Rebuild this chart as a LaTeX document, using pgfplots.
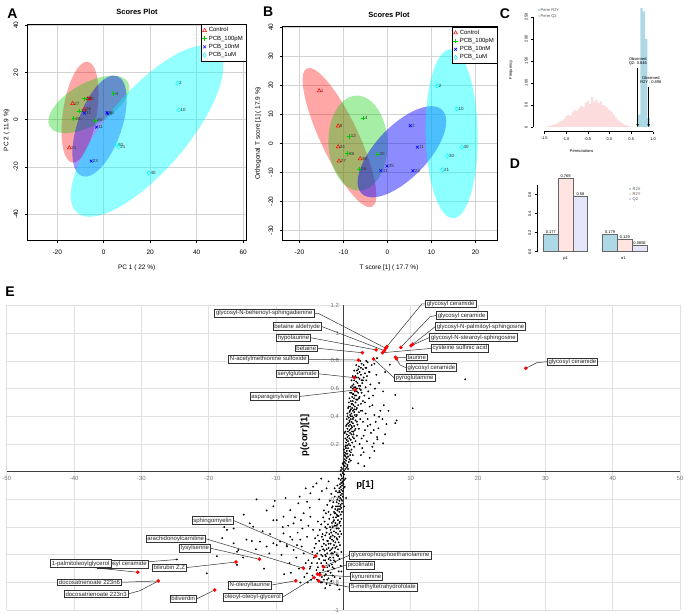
\documentclass[border=0pt]{standalone}
\usepackage{pgfplots}
\pgfplotsset{compat=1.18}
\usepackage{fontspec}
\setmainfont{Liberation Sans}
\usetikzlibrary{arrows.meta}
\definecolor{rgreen}{RGB}{0,205,0}
\definecolor{rcyan}{RGB}{0,255,255}
\definecolor{rred}{RGB}{255,0,0}
\definecolor{rblue}{RGB}{0,0,255}
\definecolor{gridgray}{RGB}{211,211,211}
\definecolor{ltblue}{RGB}{173,216,230}
\definecolor{mrose}{RGB}{255,228,225}
\definecolor{lav}{RGB}{230,230,250}
\definecolor{histpink}{RGB}{252,220,220}
\newcommand{\fsz}[1]{\fontsize{#1}{#1}\selectfont}
\pgfplotsset{
 scoreaxis/.style={
   scale only axis, axis line style={black, line width=0.6pt},
   grid=major, grid style={gridgray, line width=0.5pt},
   tick align=outside, major tick length=3pt, tick style={black, line width=0.5pt},
   tick pos=left,
   ticklabel style={font=\fsz{6.5}}, /pgf/number format/assume math mode=true,
   yticklabel style={rotate=90, anchor=south},
   xticklabel shift=3pt, yticklabel shift=3pt,
   legend style={font=\fsz{6}, draw=black, line width=0.4pt, at={(1,1)}, anchor=north east, inner sep=1pt, row sep=-1.5pt},
   legend cell align=left,
   every node near coord/.style={anchor=west, font=\fsz{4.5}, text=black!80, inner sep=1.5pt},
 },
 ctl/.style={only marks, mark=triangle, mark size=2.2pt, rred, mark options={line width=0.5pt}, nodes near coords, point meta=explicit symbolic},
 pa/.style={only marks, mark=+, mark size=2.2pt, rgreen, mark options={line width=0.6pt}, nodes near coords, point meta=explicit symbolic},
 pb/.style={only marks, mark=x, mark size=2pt, rblue, mark options={line width=0.6pt}, nodes near coords, point meta=explicit symbolic},
 pc/.style={only marks, mark=diamond, mark size=2.2pt, rcyan, mark options={line width=0.5pt}, nodes near coords, point meta=explicit symbolic},
}
\tikzset{lbl/.style={draw=black!80, line width=0.6pt, fill=white, font=\fsz{6}, inner xsep=1.4pt, inner ysep=1.1pt, text=black!85},
 ldr/.style={black!80, line width=0.5pt}}
\begin{document}
\begin{tikzpicture}[x=1pt,y=1pt]
\useasboundingbox (0,0) rectangle (685,613);
% ---------------- Panel A ----------------
\begin{axis}[scoreaxis, at={(27.7pt,588.7pt)}, anchor=north west, width=218.3pt, height=215.7pt,
 xmin=-32.7,xmax=61.2,ymin=-50.9,ymax=40.4, xtick={-20,0,20,40,60}, ytick={-40,-20,0,20,40}]
\fill[rred,fill opacity=0.35, rotate around={81.2:(axis cs:-10.2,3.2)}] (axis cs:-10.2,3.2) ellipse [x radius=51pt, y radius=17pt];
\fill[rgreen,fill opacity=0.35, rotate around={29.5:(axis cs:-6.4,6.5)}] (axis cs:-6.4,6.5) ellipse [x radius=45pt, y radius=21pt];
\fill[rblue,fill opacity=0.4, rotate around={70.7:(axis cs:-1.8,-2.7)}] (axis cs:-1.8,-2.7) ellipse [x radius=53pt, y radius=22pt];
\fill[rcyan,fill opacity=0.42, rotate around={49.4:(axis cs:18.6,-4.8)}] (axis cs:18.6,-4.8) ellipse [x radius=107.5pt, y radius=40pt];
\addplot[ctl] coordinates {(-13.4,6.9)[27] (-14.8,-11.9)[24] (-6.8,8.9)[9] (-5.9,8.9)[1] (-8.3,4.4)[36]};
\addplot[pa] coordinates {(-8.3,8.9)[38] (-10.5,3.6)[12] (-12.9,0.5)[26] (-3.6,-0.3)[20] (4.3,11.1)[4]};
\addplot[pb] coordinates {(-8.3,2.8)[31] (1.4,3.0)[35] (1.8,2.5)[3] (-3.1,-3.1)[11] (-5.4,-17.5)[23]};
\addplot[pc] coordinates {(31.7,15.5)[2] (32.3,4.2)[10] (5.4,-10.5)[30] (6.4,-11.4)[21] (19.4,-22.6)[40]};
\legend{Control,PCB\_100pM,PCB\_10nM,PCB\_1uM}
\end{axis}
% ---------------- Panel B ----------------
\begin{axis}[scoreaxis, at={(282.7pt,586.3pt)}, anchor=north west, width=214.3pt, height=213.3pt,
 xmin=-23.8,xmax=24.9,ymin=-33.3,ymax=40.2, xtick={-20,-10,0,10,20}, ytick={-30,-20,...,40}]
\fill[rred,fill opacity=0.35, rotate around={115.2:(axis cs:-10.9,2.0)}] (axis cs:-10.9,2.0) ellipse [x radius=76.5pt, y radius=19pt];
\fill[rgreen,fill opacity=0.35, rotate around={92:(axis cs:-6.7,0.1)}] (axis cs:-6.7,0.1) ellipse [x radius=47.5pt, y radius=29.5pt];
\fill[rblue,fill opacity=0.45, rotate around={46.2:(axis cs:3.3,-2.9)}] (axis cs:3.3,-2.9) ellipse [x radius=58pt, y radius=26pt];
\fill[rcyan,fill opacity=0.45, rotate around={91:(axis cs:14.6,3.3)}] (axis cs:14.6,3.3) ellipse [x radius=84.5pt, y radius=26pt];
\addplot[ctl] coordinates {(-15.5,18.1)[1] (-11.2,6.0)[9] (-11.2,-1.2)[24] (-11.0,-6.1)[27] (-6.2,-5.3)[36]};
\addplot[pa] coordinates {(-5.5,8.7)[4] (-8.7,2.4)[12] (-9.1,-3.5)[38] (-6.4,-8.9)[26] (-2.2,-3.7)[20]};
\addplot[pb] coordinates {(5.2,6.1)[3] (6.8,-1.3)[11] (-0.1,-7.8)[35] (-1.5,-9.4)[31] (5.8,-9.4)[23]};
\addplot[pc] coordinates {(11.3,19.8)[2] (15.8,11.9)[10] (16.9,-1.3)[40] (13.6,-4.3)[30] (12.5,-9.1)[21]};
\legend{Control,PCB\_100pM,PCB\_10nM,PCB\_1uM}
\end{axis}
% ---------------- Panel C ----------------
\begin{axis}[at={(533.3pt,481.3pt)}, anchor=south west, scale only axis, width=121.9pt, height=121.6pt,
 xmin=-1.752, xmax=1.05, ymin=-10.7, ymax=265, axis line style={draw=none},
 xtick={-1.5,-1,-0.5,0,0.5,1}, xticklabels={-1.5,-1.0,-0.5,0.0,0.5,1.0}, ytick={0,50,...,250},
 tick align=outside, major tick length=2pt, tick style={black, line width=0.4pt}, tick pos=left,
 ticklabel style={font=\fsz{4}}, /pgf/number format/assume math mode=true,
 yticklabel style={rotate=90, anchor=south}, clip=false]
\addplot[ybar, bar width=0.046, bar shift=0pt, fill=histpink, draw=none] coordinates {
(-1.50,1) (-1.45,1) (-1.40,2) (-1.35,3) (-1.30,5) (-1.25,6) (-1.20,8) (-1.15,11) (-1.10,14) (-1.05,18)
(-1.00,24) (-0.95,28) (-0.90,26) (-0.85,33) (-0.80,38) (-0.75,36) (-0.70,42) (-0.65,48) (-0.60,45) (-0.55,55)
(-0.50,60) (-0.45,52) (-0.40,68) (-0.35,58) (-0.30,62) (-0.25,54) (-0.20,58) (-0.15,50) (-0.10,48) (-0.05,44)
(0.00,38) (0.05,35) (0.10,28) (0.15,22) (0.20,16) (0.25,12) (0.30,8) (0.35,5) (0.40,4) (0.45,2) (0.50,1) (0.55,1)};
\addplot[ybar, bar width=0.055, bar shift=0pt, fill=ltblue, draw=none] coordinates {
(0.68,28) (0.735,270) (0.79,262) (0.845,200) (0.90,20)};
\draw[black, line width=0.4pt] (axis cs:-1.5,-10.7) -- (axis cs:1,-10.7);
\draw[black, line width=0.4pt] (axis cs:-1.752,0) -- (axis cs:-1.752,250);
\draw[black, line width=0.8pt, -{Stealth[length=3pt,width=2.5pt]}] (axis cs:0.646,134) -- (axis cs:0.646,0);
\draw[black, line width=0.8pt, -{Stealth[length=3pt,width=2.5pt]}] (axis cs:0.898,90) -- (axis cs:0.898,0);
\node[font=\fsz{4}, align=center, inner sep=0pt] at (axis cs:0.65,148) {Observed\\Q2: 0.646};
\node[font=\fsz{4}, align=center, inner sep=0pt] at (axis cs:0.95,107) {Observed\\R2Y : 0.898};
\end{axis}
\fill[ltblue] (537.5,602) rectangle (539.5,604);
\node[font=\fsz{4}, anchor=west, inner sep=0pt, text=black!70] at (540.5,603) {Perm R2Y};
\fill[histpink] (537.5,596) rectangle (539.5,598);
\node[font=\fsz{4}, anchor=west, inner sep=0pt, text=black!70] at (540.5,597) {Perm Q2};
\node[font=\fsz{4}, rotate=90] at (511,543) {Frequency};
\node[font=\fsz{4}] at (581.7,462) {Permutations};
% ---------------- Panel D ----------------
\begin{axis}[at={(536.7pt,361.3pt)}, anchor=south west, scale only axis, width=117.7pt, height=80.75pt,
 xmin=0.047, xmax=8, ymin=0, ymax=0.85, axis line style={draw=none},
 xtick=\empty, ytick={0,0.2,0.4,0.6}, yticklabels={0.0,0.2,0.4,0.6},
 tick align=outside, major tick length=2pt, tick style={black, line width=0.4pt}, tick pos=left,
 ticklabel style={font=\fsz{4}}, yticklabel style={rotate=90, anchor=south}, clip=false,
 every node near coord/.style={font=\fsz{4}, anchor=south, inner sep=1pt, text=black}]
\addplot[ybar, bar width=1, bar shift=0pt, fill=ltblue, draw=black!60, line width=0.8pt, nodes near coords, point meta=explicit symbolic] coordinates {(1,0.177)[0.177] (5,0.179)[0.179]};
\addplot[ybar, bar width=1, bar shift=0pt, fill=mrose, draw=black!60, line width=0.8pt, nodes near coords, point meta=explicit symbolic] coordinates {(2,0.769)[0.769] (6,0.129)[0.129]};
\addplot[ybar, bar width=1, bar shift=0pt, fill=lav, draw=black!60, line width=0.8pt, nodes near coords, point meta=explicit symbolic] coordinates {(3,0.58)[0.58] (7,0.0658)[0.0658]};
\draw[black, line width=0.4pt] (axis cs:0.047,0) -- (axis cs:0.047,0.7);
\end{axis}
\node[font=\fsz{4}] at (565.7,354.7) {p1};
\node[font=\fsz{4}] at (623.3,354.7) {o1};
\fill[ltblue] (629,422.5) rectangle (631,424.5);
\node[font=\fsz{4}, anchor=west, inner sep=0pt, text=black!70] at (632.5,423.5) {R2X};
\fill[mrose!70!pink] (629,417.5) rectangle (631,419.5);
\node[font=\fsz{4}, anchor=west, inner sep=0pt, text=black!70] at (632.5,418.5) {R2Y};
\fill[lav!70!blue!40] (629,412.5) rectangle (631,414.5);
\node[font=\fsz{4}, anchor=west, inner sep=0pt, text=black!70] at (632.5,413.5) {Q2};
% ---------------- Panel E ----------------
\begin{axis}[at={(6.8pt,2.8pt)}, anchor=south west, scale only axis, width=673.2pt, height=304.7pt,
 xmin=-50,xmax=50,ymin=-1,ymax=1.2, axis lines=middle, axis line style={-, black!75, line width=1.2pt},
 xtick={-50,-40,-30,-20,-10,10,20,30,40,50}, ytick={-1,-0.8,-0.6,-0.4,-0.2,0,0.2,0.4,0.6,0.8,1,1.2},
 grid=major, grid style={black!12, line width=0.6pt}, major tick length=0pt,
 ticklabel style={font=\fsz{6}, text=black!55}, /pgf/number format/assume math mode=true,
 xticklabel style={anchor=north, yshift=-1.5pt}, yticklabel style={anchor=east, xshift=-1pt}, clip=false]
\addplot[only marks, mark=*, mark size=0.7pt, black] coordinates {
(0.1,0.01) (0.3,0.02) (-0.2,0.02) (0.5,0.03) (0.2,0.04) (0.0,0.05) (0.6,0.05) (0.3,0.06) (0.8,0.07) (0.1,0.07)
(0.4,0.08) (0.9,0.09) (0.2,0.09) (0.5,0.10) (0.7,0.11) (0.3,0.11) (1.0,0.12) (0.4,0.13) (0.6,0.13) (0.2,0.14)
(0.9,0.15) (0.5,0.15) (1.2,0.16) (0.4,0.17) (0.7,0.17) (0.3,0.18) (1.0,0.19) (0.6,0.19) (0.8,0.20) (0.4,0.21)
(1.3,0.21) (0.7,0.22) (0.5,0.23) (1.1,0.23) (0.9,0.24) (0.6,0.25) (1.4,0.25) (0.8,0.26) (0.5,0.27) (1.2,0.27)
(1.0,0.28) (0.7,0.29) (1.5,0.29) (0.9,0.30) (1.1,0.31) (0.6,0.31) (1.3,0.32) (0.8,0.33) (1.6,0.33) (1.0,0.34)
(0.7,0.35) (1.4,0.35) (1.2,0.36) (0.9,0.37) (1.8,0.37) (1.1,0.38) (0.8,0.39) (1.5,0.39) (1.3,0.40) (1.0,0.41)
(2.0,0.41) (1.2,0.42) (0.9,0.43) (1.6,0.43) (1.4,0.44) (1.1,0.45) (1.9,0.45) (1.3,0.46) (1.0,0.47) (1.7,0.47)
(1.5,0.48) (2.2,0.48) (1.2,0.49) (1.8,0.50) (1.4,0.51) (1.1,0.51) (2.1,0.52) (1.6,0.53) (1.3,0.54) (2.4,0.54)
(1.9,0.55) (1.5,0.56) (1.2,0.57) (2.2,0.57) (1.7,0.58) (2.6,0.59) (1.4,0.60) (2.0,0.60) (1.8,0.61) (2.5,0.62)
(1.5,0.63) (2.1,0.64) (2.8,0.64) (1.9,0.65) (1.6,0.66) (2.4,0.67) (2.2,0.68) (3.0,0.68) (1.8,0.69) (2.6,0.70)
(2.1,0.71) (3.2,0.71) (2.4,0.72) (2.0,0.73) (2.9,0.74) (2.6,0.75) (3.4,0.75) (2.3,0.76) (3.0,0.77) (2.7,0.78)
(3.6,0.79) (2.5,0.80) (-0.3,0.03) (-0.1,0.06) (-0.4,0.01)
(0.6,0.04) (1.1,0.08) (1.4,0.12) (0.2,0.12) (1.6,0.18) (0.1,0.16) (1.8,0.22) (0.3,0.24) (2.0,0.26) (0.2,0.28)
(1.7,0.30) (2.3,0.31) (0.4,0.33) (2.1,0.34) (0.5,0.38) (2.5,0.38) (1.9,0.40) (0.6,0.42) (2.3,0.43) (2.8,0.44)
(0.7,0.46) (2.0,0.46) (2.6,0.49) (0.8,0.50) (2.9,0.51) (0.9,0.53) (2.3,0.53) (3.1,0.55) (1.0,0.57) (2.7,0.57)
(1.1,0.61) (3.3,0.61) (2.3,0.62) (1.2,0.66) (2.9,0.66) (1.4,0.69) (3.5,0.69) (1.6,0.73) (1.9,0.77) (3.9,0.72)
(0.9,0.36) (1.3,0.29) (1.6,0.24) (0.4,0.19) (1.1,0.14) (0.7,0.02) (1.4,0.38) (1.7,0.41) (1.2,0.33) (1.5,0.27)
(1.8,0.31) (2.0,0.36) (1.1,0.40) (1.6,0.45) (1.9,0.52) (1.3,0.49) (1.0,0.44) (1.7,0.55) (2.0,0.58) (1.6,0.61)
(2.4,0.60) (1.3,0.62) (1.9,0.68) (2.7,0.66) (2.2,0.74) (1.4,0.56) (0.8,0.47) (0.6,0.40) (0.5,0.34) (0.3,0.29)
(3.2,0.30) (3.6,0.38) (2.7,0.24) (4.3,0.48) (3.8,0.53) (4.7,0.60) (3.0,0.14) (2.4,0.20) (4.5,0.30) (5.8,0.38)
(6.7,0.44) (4.9,0.70) (3.3,0.75) (4.6,0.78) (6.2,0.72) (5.9,0.58)
(18.1,0.667) (10.3,0.458) (7.7,0.554) (7.9,0.37) (6.4,0.344) (4.6,0.41) (5.3,0.397) (5.5,0.44) (5.2,0.313) (5.9,0.205)
(5.05,0.234) (4.5,0.205) (6.9,0.773) (4.2,0.77) (3.8,0.72) (3.4,0.66) (4.0,0.63) (3.7,0.58) (4.4,0.55) (3.2,0.50)
(3.9,0.47) (3.3,0.42) (4.8,0.36) (3.6,0.33) (4.1,0.28) (3.0,0.26) (3.5,0.22) (2.8,0.17) (4.6,0.15) (2.6,0.12)
(3.9,0.10) (2.2,0.06) (3.1,0.04) (6.2,0.27) (4.3,0.18) (2.9,0.36) (5.3,0.64) (3.4,0.80) (5.0,0.82) (7.7,0.35)
(6.0,0.48) (5.0,0.25) (4.0,0.34) (2.6,0.44)
(-0.1,-0.01) (0.1,-0.02) (-0.3,-0.03) (0.0,-0.04) (-0.2,-0.05) (0.1,-0.06) (-0.4,-0.06) (-0.1,-0.07) (-0.3,-0.08) (0.0,-0.09)
(-0.5,-0.09) (-0.2,-0.10) (-0.4,-0.11) (0.0,-0.12) (-0.6,-0.12) (-0.3,-0.13) (-0.1,-0.14) (-0.5,-0.15) (-0.8,-0.15) (-0.2,-0.16)
(-0.4,-0.17) (-0.7,-0.18) (-0.1,-0.18) (-0.5,-0.19) (-0.9,-0.20) (-0.3,-0.20) (-0.6,-0.21) (-1.0,-0.22) (-0.2,-0.23) (-0.7,-0.23)
(-0.4,-0.24) (-1.1,-0.25) (-0.8,-0.25) (-0.3,-0.26) (-0.5,-0.27) (-1.2,-0.27) (-0.9,-0.28) (-0.2,-0.29) (-0.6,-0.29) (-1.3,-0.30)
(-1.0,-0.31) (-0.4,-0.31) (-0.7,-0.32) (-1.5,-0.33) (-1.1,-0.33) (-0.3,-0.34) (-0.8,-0.35) (-1.4,-0.35) (-0.5,-0.36) (-1.2,-0.37)
(-1.7,-0.37) (-0.9,-0.38) (-0.4,-0.39) (-1.3,-0.39) (-1.6,-0.40) (-0.7,-0.41) (-1.0,-0.41) (-1.9,-0.42) (-0.5,-0.43) (-1.4,-0.43)
(-1.1,-0.44) (-2.1,-0.45) (-0.8,-0.45) (-1.6,-0.46) (-0.6,-0.47) (-1.3,-0.47) (-2.0,-0.48) (-0.9,-0.49) (-1.7,-0.49) (-2.4,-0.50)
(-1.2,-0.51) (-0.7,-0.51) (-1.9,-0.52) (-1.4,-0.53) (-2.6,-0.53) (-1.0,-0.54) (-2.2,-0.55) (-1.6,-0.55) (-0.8,-0.56) (-2.0,-0.57)
(-2.8,-0.57) (-1.3,-0.58) (-2.4,-0.59) (-1.8,-0.59) (-1.0,-0.60) (-2.6,-0.61) (-3.1,-0.61) (-1.5,-0.62) (-2.2,-0.63) (-1.9,-0.64)
(-2.9,-0.64) (-1.2,-0.65) (-2.5,-0.66) (-3.3,-0.66) (-1.7,-0.67) (-2.1,-0.68) (-2.8,-0.69) (-1.4,-0.70) (-3.0,-0.71) (-2.3,-0.72)
(-1.9,-0.73) (-3.5,-0.73) (-2.6,-0.74) (-1.6,-0.75) (-3.2,-0.76) (-2.2,-0.77) (-2.9,-0.78) (-1.8,-0.79) (-3.4,-0.80) (-2.5,-0.81)
(-4.6,-0.75) (-5.0,-0.70) (-5.3,-0.80) (-0.6,-0.63) (-0.4,-0.68) (-0.7,-0.72) (-0.3,-0.58) (-0.5,-0.77) (-0.9,-0.82)
(0.3,-0.05) (0.2,-0.11) (0.4,-0.19) (0.1,-0.25)
(-0.4,-0.02) (-0.7,-0.05) (-0.2,-0.08) (-0.9,-0.10) (-0.6,-0.14) (-1.1,-0.14) (-1.3,-0.18) (-0.2,-0.21) (-1.5,-0.22) (-0.5,-0.25)
(-1.7,-0.26) (-1.4,-0.29) (-0.9,-0.32) (-1.9,-0.31) (-2.1,-0.34) (-0.6,-0.37) (-2.3,-0.38) (-1.1,-0.39) (-2.5,-0.41) (-1.8,-0.44)
(-0.3,-0.45) (-2.7,-0.46) (-1.0,-0.48) (-2.3,-0.50) (-3.0,-0.49) (-0.5,-0.53) (-1.8,-0.56) (-3.2,-0.54) (-2.7,-0.60) (-0.8,-0.61)
(-3.6,-0.63) (-1.6,-0.69) (-2.4,-0.69) (-3.8,-0.69) (-1.3,-0.76) (-2.0,-0.82) (-2.7,-0.84) (-3.9,-0.78) (-0.3,-0.72) (-0.6,-0.85)
(-1.3,-0.12) (-1.8,-0.16) (-2.0,-0.21) (-2.4,-0.24) (-2.6,-0.30) (-3.0,-0.33) (-3.3,-0.38) (-3.5,-0.42) (-3.8,-0.46) (-4.2,-0.48)
(-4.3,-0.55) (-4.6,-0.58) (-4.7,-0.66) (-5.6,-0.66) (-6.0,-0.69) (-3.9,-0.59) (-3.0,-0.56) (-2.0,-0.40) (-1.5,-0.36) (-1.2,-0.30)
(-0.8,-0.27) (-1.6,-0.25) (-2.2,-0.29) (-2.8,-0.36) (-3.2,-0.47) (-2.5,-0.44) (-1.9,-0.47) (-2.9,-0.52) (-2.2,-0.52) (-3.6,-0.50)
(-1.5,-0.50) (-1.2,-0.55) (-2.5,-0.56) (-3.3,-0.60) (-1.6,-0.59) (-2.0,-0.62) (-2.7,-0.64) (-1.4,-0.64) (-3.1,-0.68) (-2.4,-0.78)
(-6.5,-0.18) (-7.2,-0.33) (-8.2,-0.39) (-9.0,-0.40) (-6.8,-0.44) (-7.6,-0.49) (-6.2,-0.54) (-10.9,-0.45) (-12.0,-0.43) (-11.0,-0.59)
(-9.2,-0.60) (-7.0,-0.62) (-8.0,-0.66) (-6.6,-0.70) (-10.2,-0.21) (-14.8,-0.31) (-8.6,-0.19) (-5.6,-0.12) (-6.3,-0.35) (-5.2,-0.39)
(-18.0,-0.48) (-14.9,-0.62) (-13.0,-0.56) (-11.8,-0.70) (-8.8,-0.74) (-7.8,-0.73)
(-10.4,-0.35) (-8.9,-0.325) (-7.9,-0.277) (-7.4,-0.373) (-6.7,-0.228) (-5.9,-0.30) (-5.4,-0.217) (-4.9,-0.156) (-4.5,-0.108) (-4.0,-0.084)
(-4.9,-0.325) (-4.5,-0.42) (-5.4,-0.47) (-6.4,-0.49) (-7.9,-0.47) (-9.4,-0.505) (-9.9,-0.53) (-8.4,-0.53) (-7.4,-0.565) (-5.9,-0.59)
(-5.2,-0.64) (-4.9,-0.686) (-5.4,-0.734) (-13.9,-0.373) (-12.9,-0.2) (-11.4,-0.28) (-10.4,-0.25) (-16.3,-0.41) (-17.3,-0.42) (-14.4,-0.49)
(-13.6,-0.50) (-20.3,-0.734) (-18.8,-0.61) (-15.6,-0.565) (-12.4,-0.505) (-11.4,-0.54) (-10.4,-0.517) (-9.9,-0.35) (-13.4,-0.397) (-8.9,-0.445)
(-8.4,-0.54) (-17.7,-0.40) (-15.8,-0.578) (-16.3,-0.517) (-24.75,-0.634) (-15.8,-0.673) (-3.6,-0.20) (-3.2,-0.14) (-2.9,-0.28) (-3.8,-0.36)
(-3.1,-0.45) (-4.1,-0.52) (-3.5,-0.57) (-4.4,-0.62) (-3.9,-0.66) (-2.7,-0.40) (-6.1,-0.41) (-6.9,-0.53) (-5.0,-0.26) (-2.5,-0.12)
(-2.2,-0.07) (-3.3,-0.05) (-4.8,-0.78) (-3.2,-0.80) (-4.0,-0.71) (-2.8,-0.75) (-5.8,-0.76) (-6.4,-0.80)};
% leader lines
\draw[ldr] (axis cs:-4.35,1.144) -- (axis cs:-3.76,1.144) -- (axis cs:6.3,0.891);
\draw[ldr] (axis cs:-3.21,1.048) -- (axis cs:6.09,0.874);
\draw[ldr] (axis cs:-4.84,0.967) -- (axis cs:4.86,0.879);
\draw[ldr] (axis cs:-3.80,0.891) -- (axis cs:2.82,0.859);
\draw[ldr] (axis cs:-5.20,0.812) -- (axis cs:2.23,0.806);
\draw[ldr] (axis cs:-3.71,0.707) -- (axis cs:1.63,0.679);
\draw[ldr] (axis cs:-6.54,0.543) -- (axis cs:1.74,0.590);
\draw[ldr] (axis cs:12.14,1.212) -- (axis cs:11.65,1.211) -- (axis cs:6.45,0.903);
\draw[ldr] (axis cs:13.77,1.128) -- (axis cs:12.88,1.119) -- (axis cs:8.53,0.898);
\draw[ldr] (axis cs:13.63,1.047) -- (axis cs:10.31,0.920);
\draw[ldr] (axis cs:12.78,0.969) -- (axis cs:10.06,0.910);
\draw[ldr] (axis cs:12.99,0.890) -- (axis cs:5.80,0.859);
\draw[ldr] (axis cs:9.27,0.825) -- (axis cs:7.73,0.826);
\draw[ldr] (axis cs:9.27,0.752) -- (axis cs:8.43,0.770) -- (axis cs:7.88,0.816);
\draw[ldr] (axis cs:7.53,0.678) -- (axis cs:4.46,0.814);
\draw[ldr] (axis cs:30.22,0.794) -- (axis cs:28.74,0.787) -- (axis cs:27.10,0.747);
\draw[ldr] (axis cs:-16.34,-0.352) -- (axis cs:-4.10,-0.609);
\draw[ldr] (axis cs:-20.45,-0.484) -- (axis cs:-5.94,-0.697);
\draw[ldr] (axis cs:-19.70,-0.553) -- (axis cs:-12.48,-0.632);
\draw[ldr] (axis cs:-36.89,-0.694) -- (axis cs:-30.55,-0.726);
\draw[ldr] (axis cs:-28.97,-0.650) -- (axis cs:-24.75,-0.634);
\draw[ldr] (axis cs:-23.27,-0.692) -- (axis cs:-15.94,-0.652);
\draw[ldr] (axis cs:-32.93,-0.798) -- (axis cs:-27.49,-0.789);
\draw[ldr] (axis cs:-31.95,-0.882) -- (axis cs:-30.21,-0.859) -- (axis cs:-27.49,-0.789);
\draw[ldr] (axis cs:-21.78,-0.918) -- (axis cs:-19.11,-0.854);
\draw[ldr] (axis cs:-10.64,-0.818) -- (axis cs:-7.07,-0.787);
\draw[ldr] (axis cs:-9.06,-0.907) -- (axis cs:-4.35,-0.765);
\draw[ldr] (axis cs:0.89,-0.603) -- (axis cs:-2.97,-0.686);
\draw[ldr] (axis cs:0.40,-0.674) -- (axis cs:-3.86,-0.739);
\draw[ldr] (axis cs:1.0,-0.758) -- (axis cs:-3.5,-0.745);
\draw[ldr] (axis cs:0.89,-0.834) -- (axis cs:-3.66,-0.789);
\addplot[only marks, mark=*, mark size=1.6pt, rred] coordinates {
(6.3,0.891) (6.09,0.874) (6.45,0.903) (4.86,0.879) (5.80,0.859) (2.82,0.859) (2.23,0.806) (4.46,0.814)
(8.53,0.898) (10.31,0.920) (10.06,0.910) (7.73,0.826) (7.88,0.816) (1.63,0.679) (1.74,0.590) (27.10,0.747)
(-4.10,-0.609) (-5.94,-0.697) (-2.97,-0.686) (-3.86,-0.739) (-3.5,-0.745) (-4.35,-0.765) (-7.07,-0.787)
(-3.66,-0.789) (-12.48,-0.632) (-15.94,-0.652) (-30.55,-0.726) (-27.49,-0.789) (-19.11,-0.854)};
% labels
\node[lbl, anchor=east] at (axis cs:-4.35,1.144) {glycosyl-N-behenoyl-sphingadienine};
\node[lbl, anchor=east] at (axis cs:-3.21,1.048) {betaine aldehyde};
\node[lbl, anchor=east] at (axis cs:-4.84,0.967) {hypotaurine};
\node[lbl, anchor=east] at (axis cs:-3.80,0.891) {betaine};
\node[lbl, anchor=east] at (axis cs:-5.20,0.812) {N-acetylmethionine sulfoxide};
\node[lbl, anchor=east] at (axis cs:-3.71,0.707) {serylglutamate};
\node[lbl, anchor=east] at (axis cs:-6.54,0.543) {asparaginylvaline};
\node[lbl, anchor=west] at (axis cs:12.14,1.212) {glycosyl ceramide};
\node[lbl, anchor=west] at (axis cs:13.77,1.128) {glycosyl ceramide};
\node[lbl, anchor=west] at (axis cs:13.63,1.047) {glycosyl-N-palmitoyl-sphingosine};
\node[lbl, anchor=west] at (axis cs:12.78,0.969) {glycosyl-N-stearoyl-sphingosine};
\node[lbl, anchor=west] at (axis cs:12.99,0.890) {cysteine sulfinic acid};
\node[lbl, anchor=west] at (axis cs:9.27,0.825) {taurine};
\node[lbl, anchor=west] at (axis cs:9.27,0.752) {glycosyl ceramide};
\node[lbl, anchor=west] at (axis cs:7.53,0.678) {pyroglutamine};
\node[lbl, anchor=west] at (axis cs:30.22,0.794) {glycosyl ceramide};
\node[lbl, anchor=east] at (axis cs:-16.34,-0.352) {sphingomyelin};
\node[lbl, anchor=east] at (axis cs:-20.45,-0.484) {arachidonoylcarnitine};
\node[lbl, anchor=east] at (axis cs:-19.70,-0.553) {lysylserine};
\node[lbl, anchor=east] at (axis cs:-28.97,-0.667) {glycosyl ceramide};
\node[lbl, anchor=east] at (axis cs:-34.5,-0.663) {1-palmitoleoylglycerol};
\node[lbl, anchor=east] at (axis cs:-23.27,-0.692) {bilirubin Z,Z};
\node[lbl, anchor=east] at (axis cs:-32.93,-0.798) {docosatrienoate 223n6};
\node[lbl, anchor=east] at (axis cs:-31.95,-0.882) {docosatrienoate 223n3};
\node[lbl, anchor=east] at (axis cs:-21.78,-0.918) {biliverdin};
\node[lbl, anchor=east] at (axis cs:-10.64,-0.818) {N-oleoyltaurine};
\node[lbl, anchor=east] at (axis cs:-9.06,-0.907) {oleoyl-oleoyl-glycerol};
\node[lbl, anchor=west] at (axis cs:0.89,-0.603) {glycerophosphoethanolamine};
\node[lbl, anchor=west] at (axis cs:0.40,-0.674) {picolinate};
\node[lbl, anchor=west] at (axis cs:1.0,-0.758) {kynurenine};
\node[lbl, anchor=west] at (axis cs:0.89,-0.834) {5-methyltetrahydrofolate};
\end{axis}
% ---------------- texts ----------------
\node[font=\bfseries\fsz{14}] at (12.5,599.7) {A};
\node[font=\bfseries\fsz{14}] at (268.3,601.3) {B};
\node[font=\bfseries\fsz{14}] at (505,599.7) {C};
\node[font=\bfseries\fsz{14}] at (515,449.7) {D};
\node[font=\bfseries\fsz{14}] at (10,321) {E};
\node[font=\bfseries\fsz{7.5}] at (137,600.7) {Scores Plot};
\node[font=\bfseries\fsz{7.5}] at (389,598) {Scores Plot};
\node[font=\fsz{6.5}] at (136.7,344.7) {PC 1 ( 22 \%)};
\node[font=\fsz{6.5}, rotate=90] at (6.7,483) {PC 2 ( 11.9 \%)};
\node[font=\fsz{6.5}] at (389,344.7) {T score [1] ( 17.7 \%)};
\node[font=\fsz{6.5}, rotate=90] at (258.3,479.7) {Orthogonal T score [1] ( 17.9 \%)};
\node[font=\bfseries\fsz{9.5}, rotate=90] at (305,178) {p(corr)[1]};
\node[font=\bfseries\fsz{9.5}] at (365,128) {p[1]};
\end{tikzpicture}
\end{document}
